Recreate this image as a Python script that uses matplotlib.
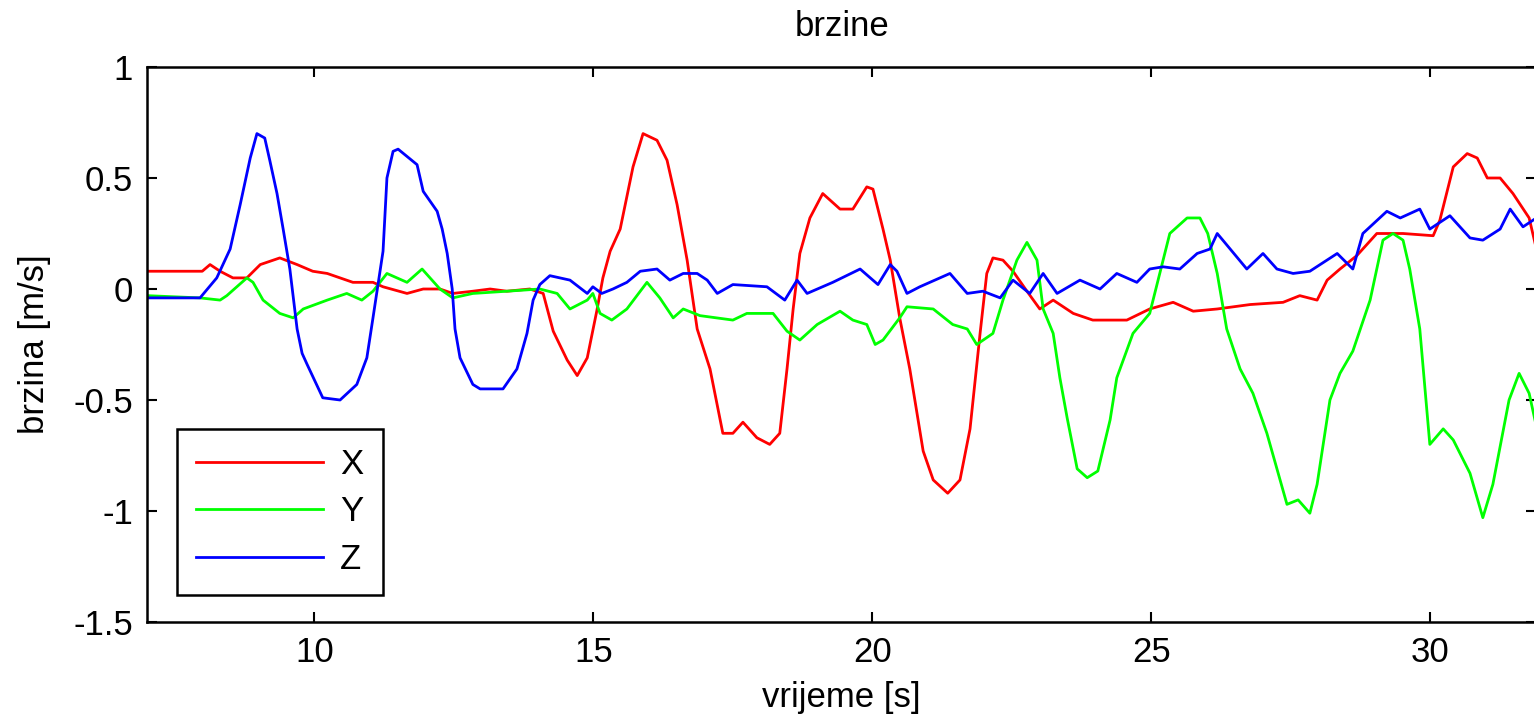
import matplotlib
matplotlib.use("Agg")
from matplotlib import pyplot as plt
from matplotlib.ticker import FuncFormatter

plt.rcParams['font.family'] = ['Liberation Sans Narrow', 'Liberation Sans', 'DejaVu Sans']
plt.rcParams['axes.unicode_minus'] = False

# velocity components over time
t_x = [7.00, 7.99, 8.13, 8.31, 8.54, 8.79, 9.03, 9.38, 9.69, 9.97, 10.23, 10.69, 11.05, 11.23,
       11.66, 11.95, 12.25, 12.48, 12.84, 13.15, 13.45, 13.86, 14.10, 14.28, 14.53, 14.71,
       14.89, 15.06, 15.17, 15.30, 15.48, 15.71, 15.89, 16.14, 16.32, 16.50, 16.68, 16.86,
       17.09, 17.32, 17.50, 17.68, 17.93, 18.16, 18.34, 18.47, 18.58, 18.70, 18.88, 19.11,
       19.42, 19.65, 19.90, 20.01, 20.19, 20.32, 20.49, 20.67, 20.91, 21.09, 21.35, 21.57,
       21.75, 21.93, 22.05, 22.16, 22.34, 22.52, 22.77, 23.00, 23.24, 23.60, 23.95, 24.56,
       24.97, 25.39, 25.75, 26.18, 26.77, 27.36, 27.66, 27.97, 28.15, 28.38, 28.68, 29.04,
       29.51, 30.05, 30.17, 30.41, 30.66, 30.84, 31.02, 31.25, 31.48, 31.77, 31.90]
v_x = [0.08, 0.08, 0.11, 0.08, 0.05, 0.05, 0.11, 0.14, 0.11, 0.08, 0.07, 0.03, 0.03, 0.01,
       -0.02, 0.00, 0.00, -0.02, -0.01, 0.00, -0.01, 0.00, -0.02, -0.19, -0.32, -0.39,
       -0.31, -0.10, 0.05, 0.17, 0.27, 0.55, 0.70, 0.67, 0.58, 0.38, 0.13, -0.18,
       -0.36, -0.65, -0.65, -0.60, -0.67, -0.70, -0.65, -0.36, -0.09, 0.16, 0.32, 0.43,
       0.36, 0.36, 0.46, 0.45, 0.27, 0.13, -0.13, -0.36, -0.73, -0.86, -0.92, -0.86,
       -0.63, -0.20, 0.07, 0.14, 0.13, 0.08, -0.01, -0.09, -0.05, -0.11, -0.14, -0.14,
       -0.09, -0.06, -0.10, -0.09, -0.07, -0.06, -0.03, -0.05, 0.04, 0.09, 0.15, 0.25,
       0.25, 0.24, 0.31, 0.55, 0.61, 0.59, 0.50, 0.50, 0.43, 0.32, 0.18]

t_y = [7.00, 7.95, 8.31, 8.43, 8.79, 8.90, 9.08, 9.38, 9.62, 9.80, 10.23, 10.58, 10.85, 11.05,
       11.30, 11.66, 11.93, 12.25, 12.48, 12.84, 13.45, 14.04, 14.35, 14.58, 14.89, 14.99,
       15.12, 15.33, 15.60, 15.96, 16.19, 16.43, 16.61, 16.91, 17.50, 17.75, 18.22, 18.47,
       18.70, 19.01, 19.42, 19.65, 19.90, 20.05, 20.19, 20.49, 20.62, 21.09, 21.44, 21.70,
       21.87, 22.16, 22.34, 22.59, 22.77, 22.95, 23.06, 23.24, 23.36, 23.49, 23.67, 23.85,
       24.04, 24.26, 24.38, 24.67, 24.97, 25.15, 25.33, 25.64, 25.87, 26.01, 26.18, 26.35,
       26.59, 26.82, 27.07, 27.43, 27.63, 27.84, 27.97, 28.20, 28.38, 28.61, 28.92, 29.15,
       29.33, 29.51, 29.63, 29.81, 29.99, 30.23, 30.41, 30.71, 30.94, 31.12, 31.41, 31.59,
       31.77, 31.90]
v_y = [-0.03, -0.04, -0.05, -0.03, 0.05, 0.03, -0.05, -0.11, -0.13, -0.09, -0.05, -0.02, -0.05, -0.01,
       0.07, 0.03, 0.09, 0.00, -0.04, -0.02, -0.01, 0.00, -0.02, -0.09, -0.05, -0.02,
       -0.11, -0.14, -0.09, 0.03, -0.04, -0.13, -0.09, -0.12, -0.14, -0.11, -0.11, -0.19,
       -0.23, -0.16, -0.10, -0.14, -0.16, -0.25, -0.23, -0.13, -0.08, -0.09, -0.16, -0.18,
       -0.25, -0.20, -0.05, 0.13, 0.21, 0.13, -0.09, -0.20, -0.40, -0.58, -0.81, -0.85,
       -0.82, -0.59, -0.40, -0.20, -0.11, 0.07, 0.25, 0.32, 0.32, 0.25, 0.07, -0.18,
       -0.36, -0.47, -0.65, -0.97, -0.95, -1.01, -0.88, -0.50, -0.38, -0.28, -0.05, 0.22,
       0.25, 0.22, 0.09, -0.18, -0.70, -0.63, -0.68, -0.83, -1.03, -0.88, -0.50, -0.38,
       -0.47, -0.62]

t_z = [7.00, 7.95, 8.25, 8.49, 8.67, 8.85, 8.97, 9.11, 9.20, 9.33, 9.44, 9.56, 9.69, 9.78,
       9.87, 10.15, 10.46, 10.76, 10.94, 11.05, 11.14, 11.23, 11.30, 11.41, 11.50, 11.84,
       11.95, 12.20, 12.29, 12.38, 12.47, 12.52, 12.61, 12.84, 12.97, 13.38, 13.63, 13.81,
       13.92, 14.04, 14.22, 14.58, 14.89, 14.99, 15.15, 15.35, 15.60, 15.84, 16.14, 16.37,
       16.61, 16.86, 17.04, 17.22, 17.50, 18.11, 18.43, 18.65, 18.83, 19.29, 19.78, 20.10,
       20.32, 20.44, 20.62, 20.85, 21.39, 21.70, 21.98, 22.29, 22.52, 22.82, 23.06, 23.31,
       23.72, 24.08, 24.38, 24.74, 24.97, 25.21, 25.51, 25.82, 26.05, 26.18, 26.28, 26.71,
       27.00, 27.25, 27.54, 27.84, 28.33, 28.61, 28.79, 29.22, 29.46, 29.81, 29.99, 30.35,
       30.71, 30.94, 31.25, 31.43, 31.66, 31.90]
v_z = [-0.04, -0.04, 0.05, 0.18, 0.38, 0.59, 0.70, 0.68, 0.58, 0.43, 0.27, 0.09, -0.18, -0.29,
       -0.34, -0.49, -0.50, -0.43, -0.31, -0.13, 0.02, 0.17, 0.50, 0.62, 0.63, 0.56,
       0.44, 0.35, 0.27, 0.16, 0.00, -0.18, -0.31, -0.43, -0.45, -0.45, -0.36, -0.20,
       -0.05, 0.02, 0.06, 0.04, -0.02, 0.01, -0.02, 0.00, 0.03, 0.08, 0.09, 0.04,
       0.07, 0.07, 0.04, -0.02, 0.02, 0.01, -0.05, 0.04, -0.02, 0.03, 0.09, 0.02,
       0.11, 0.08, -0.02, 0.01, 0.07, -0.02, -0.01, -0.04, 0.04, -0.02, 0.07, -0.02,
       0.04, 0.00, 0.07, 0.03, 0.09, 0.10, 0.09, 0.16, 0.18, 0.25, 0.22, 0.09,
       0.16, 0.09, 0.07, 0.08, 0.16, 0.09, 0.25, 0.35, 0.32, 0.36, 0.27, 0.33,
       0.23, 0.22, 0.27, 0.36, 0.28, 0.32]

x_ticks = [10, 15, 20, 25, 30]
y_ticks = [-1.5, -1, -0.5, 0, 0.5, 1]

fs = 25
fig = plt.figure(figsize=(15.34, 7.22), dpi=100)
# axes right spine sits just past the figure edge
ax = fig.add_axes([147 / 1534, 100 / 722, 1389.4 / 1534, 555 / 722])

ax.plot(t_x, v_x, color='#ff0000', lw=2.0, label='X')
ax.plot(t_y, v_y, color='#00ff00', lw=2.0, label='Y')
ax.plot(t_z, v_z, color='#0000ff', lw=2.0, label='Z')

ax.set_xlim(7, 31.9)
ax.set_ylim(-1.5, 1)
ax.set_xticks(x_ticks)
ax.set_yticks(y_ticks)
ax.yaxis.set_major_formatter(FuncFormatter(lambda v, p: '%g' % v))
ax.tick_params(direction='in', length=7, width=1.5, top=True, right=True,
               labelsize=fs, pad=10)
for s in ax.spines.values():
    s.set_linewidth(1.8)

ax.set_title('brzine', fontsize=fs, pad=22)
ax.set_xlabel('vrijeme [s]', fontsize=fs, labelpad=9)
ax.set_ylabel('brzina [m/s]', fontsize=fs, labelpad=16)

leg = ax.legend(loc='lower left', bbox_to_anchor=(0.0216, 0.0486), borderaxespad=0,
                fontsize=fs, handlelength=3.65, handletextpad=0.5, labelspacing=0.42,
                borderpad=0.55, fancybox=False, framealpha=1)
leg.get_frame().set_edgecolor('black')
leg.get_frame().set_linewidth(1.8)

fig.savefig('out.png', dpi=100)
